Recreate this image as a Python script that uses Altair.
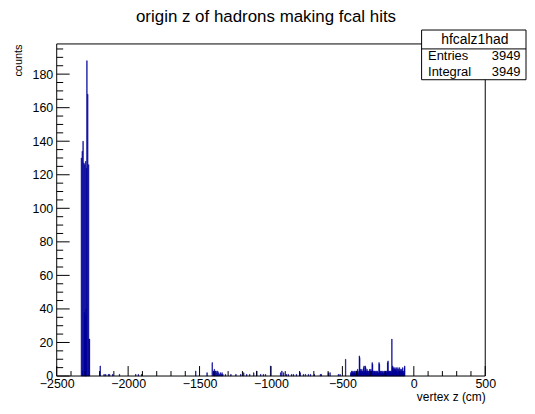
import altair as alt
import pandas as pd

# ---------------- text ----------------
TITLE = "origin z of hadrons making fcal hits"
X_TITLE = "vertex z (cm)"
Y_TITLE = "counts"
HIST_NAME = "hfcalz1had"
STATS_LABELS = ["Entries", "Integral"]
STATS_VALUES = ["3949", "3949"]

# ---------------- axes ----------------
X_DOMAIN = [-2500, 500]
Y_DOMAIN = [0, 198]
x_label_values = [-2500, -2000, -1500, -1000, -500, 0, 500]
x_minor_values = [-2400, -2300, -2200, -2100, -1900, -1800, -1700, -1600,
                  -1400, -1300, -1200, -1100, -900, -800, -700, -600,
                  -400, -300, -200, -100, 100, 200, 300, 400]
y_label_values = [0, 20, 40, 60, 80, 100, 120, 140, 160, 180]
y_minor_values = [5, 10, 15, 25, 30, 35, 45, 50, 55, 65, 70, 75, 85, 90, 95,
                  105, 110, 115, 125, 130, 135, 145, 150, 155, 165, 170, 175,
                  185, 190, 195]

# ---------------- histogram (3 cm bins) ----------------
BIN_WIDTH = 3

peak_start = -2329
peak_counts = [130, 0, 134, 3, 140, 0, 127, 38, 126, 36, 128, 40, 124,
               188, 0, 168, 0, 126, 22, 22, 0]

dense_start = -443
dense_counts = [2, 1, 3, 2, 2, 3, 1, 2, 3, 2, 2, 1, 3, 2, 3, 2, 4, 3, 1, 2,
                12, 11, 3, 4, 2, 3, 4, 2, 3, 2, 5, 6, 3, 2, 6, 5, 3, 2, 4, 3,
                2, 3, 1, 3, 4, 2, 3, 4, 2, 3, 8, 7, 2, 3, 1, 3, 2, 3, 2, 1,
                3, 2, 2, 3, 1, 2, 8, 7, 2, 3, 2, 1, 3, 2, 2, 3, 1, 2, 3, 2,
                1, 3, 2, 2, 3, 2, 8, 9, 3, 2, 3, 2, 3, 2, 3, 2, 22, 5, 6, 4,
                5, 3, 4, 5, 3, 4, 5, 3, 4, 2, 5, 3, 4, 2, 5, 3, 4, 2, 3, 4,
                3, 5, 2, 3, 1, 5, 6]

sparse_edges = [-2197, -2170, -2158, -2140, -2131, -2110, -2062, -1948, -1930,
                -1907, -1528, -1449, -1413, -1404, -1398, -1395, -1392, -1386,
                -1380, -1374, -1368, -1362, -1356, -1350, -1344, -1338, -1320,
                -1282, -1247, -1213, -1192, -1171, -1150, -1122, -1101, -1073,
                -1055, -1040, -1004, -934, -925, -913, -892, -880, -857, -844,
                -823, -797, -774, -760, -740, -725, -698, -656, -649, -600,
                -588, -530, -518, -479]
sparse_counts = [6, 1, 1, 1, 1, 1, 1, 1, 1,
                 1, 3, 2, 8, 3, 4, 2, 3, 3,
                 2, 3, 2, 1, 2, 1, 2, 1, 1,
                 1, 1, 1, 2, 1, 1, 2, 3, 1,
                 1, 1, 6, 2, 3, 2, 1, 1, 1, 1,
                 1, 2, 1, 1, 1, 1, 1, 1, 1, 2,
                 2, 1, 1, 10]

lo = ([peak_start + BIN_WIDTH * i for i in range(len(peak_counts))]
      + [dense_start + BIN_WIDTH * i for i in range(len(dense_counts))]
      + list(sparse_edges))
cnt = list(peak_counts) + list(dense_counts) + list(sparse_counts)
hist_df = pd.DataFrame({"lo": lo, "hi": [v + BIN_WIDTH for v in lo],
                        "count": cnt, "base": [0] * len(lo)})
hist_df = hist_df[hist_df["count"] > 0]

# ---------------- style ----------------
FONT = "Liberation Sans"
BLUE = "#000099"
W, H = 431, 334

xs = alt.Scale(domain=X_DOMAIN, nice=False, zero=False)
ys = alt.Scale(domain=Y_DOMAIN, nice=False, zero=True)

x_axis = alt.Axis(values=x_label_values, format="d", ticks=False, domain=False,
                  grid=False, labelFlush=False, labelOverlap=False,
                  labelFont=FONT, labelFontSize=12.5, labelColor="black",
                  labelPadding=2, title=X_TITLE, titleFont=FONT,
                  titleFontSize=12, titleFontWeight="normal", titleColor="black",
                  titleX=W, titleY=25, titleAlign="right",
                  titleBaseline="alphabetic")
y_axis = alt.Axis(values=y_label_values, format="d", ticks=False, domain=False,
                  grid=False, labelFlush=False, labelOverlap=False,
                  labelFont=FONT, labelFontSize=12.5, labelColor="black",
                  labelPadding=4, labelBaseline="middle", title=Y_TITLE,
                  titleFont=FONT, titleFontSize=11, titleFontWeight="normal",
                  titleColor="black", titleAngle=270, titleX=-35, titleY=0,
                  titleAlign="right", titleBaseline="alphabetic")

hist = alt.Chart(hist_df).mark_rect(color=BLUE, stroke=BLUE, strokeWidth=0.6).encode(
    x=alt.X("lo:Q", scale=xs, axis=x_axis),
    x2="hi:Q",
    y=alt.Y("count:Q", scale=ys, axis=y_axis),
    y2="base:Q",
)

one = pd.DataFrame({"a": [0]})

x_major = alt.Chart(pd.DataFrame({"v": x_label_values})).mark_rule(
    color="black", strokeWidth=1).encode(
    x=alt.X("v:Q", scale=xs, axis=x_axis), y=alt.value(H), y2=alt.value(H - 10))
x_minor = alt.Chart(pd.DataFrame({"v": x_minor_values})).mark_rule(
    color="black", strokeWidth=1).encode(
    x=alt.X("v:Q", scale=xs, axis=x_axis), y=alt.value(H), y2=alt.value(H - 5))
y_major = alt.Chart(pd.DataFrame({"v": y_label_values})).mark_rule(
    color="black", strokeWidth=1).encode(
    y=alt.Y("v:Q", scale=ys, axis=y_axis), x=alt.value(0), x2=alt.value(13))
y_minor = alt.Chart(pd.DataFrame({"v": y_minor_values})).mark_rule(
    color="black", strokeWidth=1).encode(
    y=alt.Y("v:Q", scale=ys, axis=y_axis), x=alt.value(0), x2=alt.value(6.5))

frame = alt.Chart(one).mark_rect(fillOpacity=0, stroke="black", strokeWidth=1).encode(
    x=alt.value(0), x2=alt.value(W), y=alt.value(0), y2=alt.value(H))

stats_box = alt.Chart(one).mark_rect(fill="white", stroke="black", strokeWidth=1).encode(
    x=alt.value(367), x2=alt.value(472), y=alt.value(-14), y2=alt.value(36))
stats_sep = alt.Chart(one).mark_rule(color="black", strokeWidth=1).encode(
    x=alt.value(367), x2=alt.value(472), y=alt.value(5))


def txt(s, x, y, size, align="left", baseline="alphabetic"):
    return alt.Chart(one).mark_text(font=FONT, fontSize=size, color="black",
                                    align=align, baseline=baseline).encode(
        x=alt.value(x), y=alt.value(y), text=alt.value(s))


texts = [
    txt(TITLE, 210.5, -22, 17, align="center"),
    txt(HIST_NAME, 420.5, 0, 14, align="center"),
    txt(STATS_LABELS[0], 373.5, 16, 13),
    txt(STATS_VALUES[0], 466.5, 16, 13, align="right"),
    txt(STATS_LABELS[1], 373.5, 32, 13),
    txt(STATS_VALUES[1], 466.5, 32, 13, align="right"),
]

chart = alt.layer(hist, x_major, x_minor, y_major, y_minor, frame,
                  stats_box, stats_sep, *texts).properties(
    width=W, height=H,
    padding={"left": 49, "top": 35, "right": 42, "bottom": 28},
    autosize=alt.AutoSizeParams(type="none"),
    background="white",
).configure_view(stroke=None)

chart.save("out.html", embed_options={"renderer": "svg", "actions": False})
